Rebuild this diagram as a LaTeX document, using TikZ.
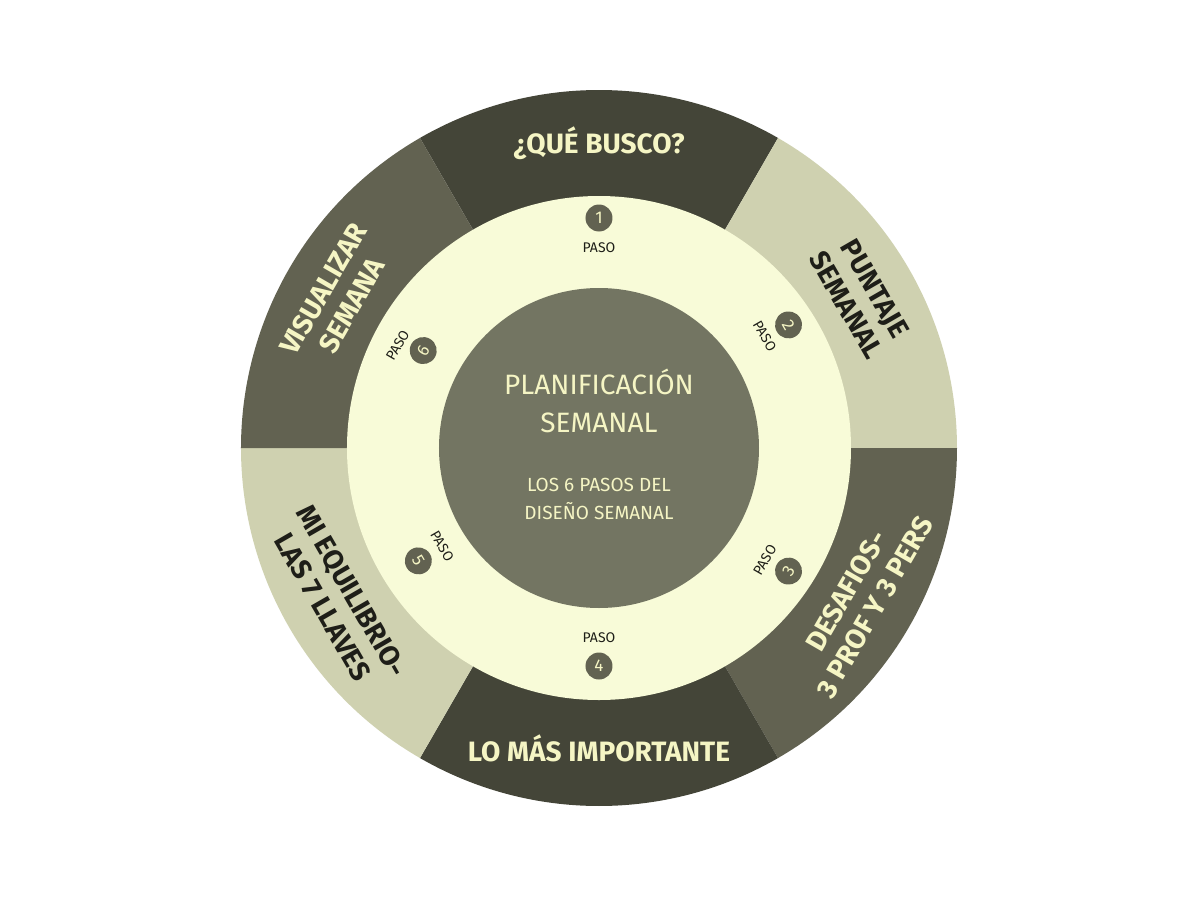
\documentclass[tikz,border=0pt]{standalone}
\usepackage{fontspec}
\setmainfont{Fira Sans}
\definecolor{dark}{HTML}{444538}
\definecolor{mid}{HTML}{626251}
\definecolor{light}{HTML}{CFD1B0}
\definecolor{inner}{HTML}{F8FBD8}
\definecolor{core}{HTML}{737562}
\definecolor{pale}{HTML}{F5F5C4}
\definecolor{ink}{HTML}{1E1E18}
\begin{document}
\begin{tikzpicture}[x=1pt,y=1pt,
  seg/.style={font=\fontsize{28}{33}\selectfont\bfseries,align=center},
  badge/.style={circle,fill=mid,text=pale,minimum size=27pt,inner sep=0pt,font=\fontsize{17}{17}\selectfont},
  paso/.style={font=\fontsize{14}{14}\selectfont,text=ink}]
\useasboundingbox[fill=white] (-599,-450) rectangle (582,448);
\def\R{358}
\fill[dark] (0,0) -- (60:\R) arc (60:120:\R) -- cycle;
\fill[light] (0,0) -- (0:\R) arc (0:60:\R) -- cycle;
\fill[mid] (0,0) -- (-60:\R) arc (-60:0:\R) -- cycle;
\fill[dark] (0,0) -- (-120:\R) arc (-120:-60:\R) -- cycle;
\fill[light] (0,0) -- (180:\R) arc (180:240:\R) -- cycle;
\fill[mid] (0,0) -- (120:\R) arc (120:180:\R) -- cycle;
\fill[inner] (0,0) circle (252);
\fill[core] (0,0) circle (160);
\node[seg,text=pale] (s1) at (90:305) {¿QUÉ BUSCO?};
\node[seg,text=ink,rotate=-60] (s2) at (30:302) {PUNTAJE\\SEMANAL};
\node[seg,text=pale,rotate=60] (s3) at (-30:302) {DESAFIOS-\\3 PROF Y 3 PERS};
\node[seg,text=pale] (s4) at (-90:300) {LO MÁS IMPORTANTE};
\node[seg,text=ink,rotate=-60] (s5) at (210:302) {MI EQUILIBRIO-\\LAS 7 LLAVES};
\node[seg,text=pale,rotate=60] (s6) at (150:302) {VISUALIZAR\\SEMANA};
\node[text=pale,align=center,font=\fontsize{28}{38}\selectfont] (t) at (0,47) {PLANIFICACIÓN\\SEMANAL};
\node[text=pale,align=center,font=\fontsize{19}{28}\selectfont] (u) at (0,-51) {LOS 6 PASOS DEL\\DISEÑO SEMANAL};
\node[badge] (b1) at (90:230) {1};
\node[paso] (p1) at (90:200) {PASO};
\node[badge,rotate=-60] (b2) at (33:226) {2};
\node[paso,rotate=-60] (p2) at (34:200) {PASO};
\node[badge,rotate=60] (b3) at (-33:226) {3};
\node[paso,rotate=60] (p3) at (-34:200) {PASO};
\node[badge] (b4) at (-90:218) {4};
\node[paso] (p4) at (-90:190) {PASO};
\node[badge,rotate=-60] (b5) at (212:213) {5};
\node[paso,rotate=-60] (p5) at (212:185) {PASO};
\node[badge,rotate=60] (b6) at (151:201) {6};
\node[paso,rotate=60] (p6) at (153:226) {PASO};
\end{tikzpicture}
\end{document}
